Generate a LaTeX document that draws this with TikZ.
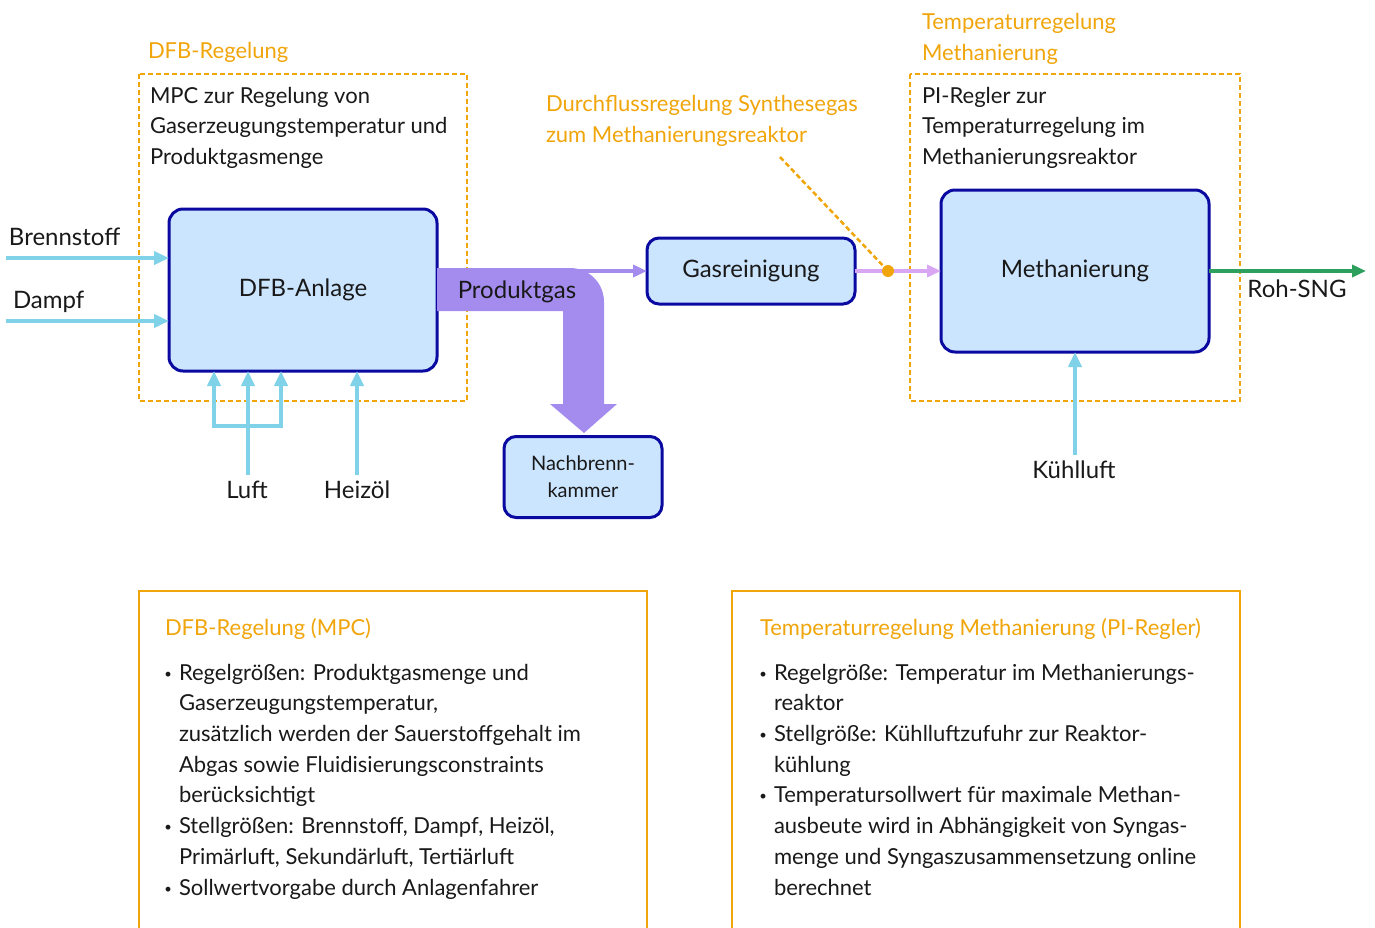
\documentclass[tikz,border=0pt]{standalone}
\usepackage{fontspec}
\setmainfont{Lato}
\usetikzlibrary{arrows.meta}
\definecolor{boxblue}{RGB}{10,10,160}
\definecolor{boxfill}{RGB}{204,229,255}
\definecolor{flowcyan}{RGB}{128,210,232}
\definecolor{ctrlorange}{RGB}{240,165,10}
\definecolor{gaspurple}{RGB}{164,140,238}
\definecolor{synlav}{RGB}{216,166,242}
\definecolor{snggreen}{RGB}{46,160,94}
\definecolor{txt}{RGB}{25,25,25}
\newcommand{\itm}{\llap{\raisebox{2pt}{\fontsize{13}{13}\selectfont\textbullet}\hspace{7pt}}}
\begin{document}
\begin{tikzpicture}[x=1pt,y=-1pt,
  every node/.style={inner sep=0pt, outer sep=0pt, text=txt},
  fs/.style={font=\fontsize{22}{30.5}\selectfont},
  lbl/.style={font=\fontsize{24}{30}\selectfont},
  unit/.style={draw=boxblue, line width=3pt, fill=boxfill, rounded corners=14pt, lbl},
  feed/.style={draw=flowcyan, line width=4pt, -{Triangle[length=15pt,width=13pt]}},
  ctrlbox/.style={draw=ctrlorange, line width=2pt, dash pattern=on 5pt off 3pt},
  ctrllabel/.style={text=ctrlorange, fs, align=left, anchor=base west},
  plain/.style={fs, align=left, anchor=base west},
  notebox/.style={draw=ctrlorange, line width=2.5pt},
  thinflow/.style={line width=3.5pt, -{Triangle[length=14pt,width=12pt]}}
]
\useasboundingbox (0,0) rectangle (1375,927);
\clip (0,0) rectangle (1375,927);

% control regions (multi-line nodes: base = last line)
\draw[ctrlbox] (139,74) rectangle (467,401);
\draw[ctrlbox] (910,74) rectangle (1240,401);
\node[ctrllabel] (dfbreg) at (148,58) {DFB-Regelung};
\node[plain] (mpc) at (150,164) {MPC zur Regelung von\\Gaserzeugungstemperatur und\\Produktgasmenge};
\node[ctrllabel] (tempreg) at (922,60) {Temperaturregelung\\Methanierung};
\node[plain] (pi) at (922,164) {PI-Regler zur\\Temperaturregelung im\\Methanierungsreaktor};
\node[ctrllabel] (durch) at (546,142) {Durchflussregelung Synthesegas\\zum Methanierungsreaktor};

% units
\node[unit, minimum width=268pt, minimum height=162pt] (dfb) at (303,290) {DFB-Anlage};
\node[unit, minimum width=208pt, minimum height=66pt, rounded corners=12pt] (gas) at (751,271) {Gasreinigung};
\node[unit, minimum width=268pt, minimum height=162pt] (meth) at (1075,271) {Methanierung};
\node[unit, minimum width=158pt, minimum height=81pt, rounded corners=12pt, align=center, font=\fontsize{20}{27}\selectfont] (nach) at (583,477) {Nachbrenn-\\kammer};

% feeds into DFB
\node[lbl, anchor=base west] (brenn) at (9,245) {Brennstoff};
\node[lbl, anchor=base west] (dampf) at (13,308) {Dampf};
\coordinate (bsin) at (6,258);
\coordinate (dpin) at (6,321);
\draw[feed] (bsin) -- (bsin -| dfb.west);
\draw[feed] (dpin) -- (dpin -| dfb.west);

\node[lbl, anchor=base] (luft) at (247,498) {Luft};
\node[lbl, anchor=base] (heiz) at (357,498) {Heizöl};
\coordinate (luftin) at (248,475);
\coordinate (fork) at (248,426);
\coordinate (heizin) at (357,475);
\draw[draw=flowcyan, line width=4pt] (luftin) -- (fork);
\draw[draw=flowcyan, line width=4pt, line cap=rect] (214,426) -- (281,426);
\foreach \xx in {214,248,281}{
  \draw[feed] (\xx,426) -- (\xx,426 |- dfb.south);
}
\draw[feed] (heizin) -- (heizin |- dfb.south);

% Produktgas band
\fill[gaspurple] (dfb.east |- 0,268) -- (570,268)
  .. controls (589,268) and (604,283) .. (604,302)
  -- (604,404) -- (617,404) -- (584,433) -- (550,404) -- (563,404)
  -- (563,311) -- (dfb.east |- 0,311) -- cycle;
\node[lbl, anchor=base] (prod) at (517,298) {Produktgas};
\coordinate (split) at (565,271);
\draw[gaspurple, thinflow] (split) -- (gas.west |- split);

% synthesis gas to methanation
\draw[synlav, thinflow] (gas.east |- split) -- (meth.west |- split);
\coordinate (dot) at (888,271);
\coordinate (durchend) at (780,157);
\draw[ctrlorange, line width=2.5pt, dash pattern=on 5pt off 3pt] (durchend) -- (dot);
\fill[ctrlorange] (dot) circle (6pt);

% output
\coordinate (sngout) at (1366,271);
\draw[snggreen, thinflow] (meth.east |- sngout) -- (sngout);
\node[lbl, anchor=base] (sng) at (1297,297) {Roh-SNG};

% cooling
\node[lbl, anchor=base] (kuehl) at (1074,478) {Kühlluft};
\coordinate (kin) at (1075,455);
\draw[feed] (kin) -- (kin |- meth.south);

% note boxes
\draw[notebox] (139,591) rectangle (647,960);
\draw[notebox] (732,591) rectangle (1240,960);
\node[ctrllabel] (t1) at (165,635) {DFB-Regelung (MPC)};
\node[ctrllabel] (t2) at (760,635) {Temperaturregelung Methanierung (PI-Regler)};
\node[plain, font=\fontsize{22}{30.7}\selectfont] (l1) at (179,895) {%
\itm Regelgrößen: Produktgasmenge und\\
Gaserzeugungstemperatur,\\
zusätzlich werden der Sauerstoffgehalt im\\
Abgas sowie Fluidisierungsconstraints\\
berücksichtigt\\
\itm Stellgrößen: Brennstoff, Dampf, Heizöl,\\
Primärluft, Sekundärluft, Tertiärluft\\
\itm Sollwertvorgabe durch Anlagenfahrer};
\node[plain, font=\fontsize{22}{30.7}\selectfont] (l2) at (774,895) {%
\itm Regelgröße: Temperatur im Methanierungs-\\
reaktor\\
\itm Stellgröße: Kühlluftzufuhr zur Reaktor-\\
kühlung\\
\itm Temperatursollwert für maximale Methan-\\
ausbeute wird in Abhängigkeit von Syngas-\\
menge und Syngaszusammensetzung online\\
berechnet};
\end{tikzpicture}
\end{document}
